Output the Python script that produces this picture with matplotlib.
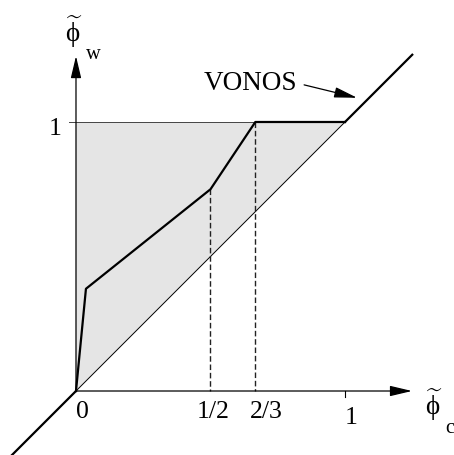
import numpy as np
import matplotlib.pyplot as plt
from matplotlib.patches import FancyArrowPatch, Polygon

# VONOS characteristic in normalised variables (phi_c, phi_w)
vonos_x = [0, 0.037, 0.5, 2 / 3, 1]
vonos_y = [0, 0.38, 0.75, 1, 1]
# diagonal phi_w = phi_c and its extension outside [0, 1]
diag_lo, diag_hi = -0.24, 1.25
# region of bounded schemes (shaded triangle)
tvd_x = [0, 0, 1]
tvd_y = [0, 1, 1]
# axis labels
xtick_pos = [0, 0.5, 2 / 3, 1]
xtick_lab = ['0', '1/2', '2/3', '1']
ytick_pos = [1]
ytick_lab = ['1']

plt.rcParams['mathtext.fontset'] = 'custom'
plt.rcParams['mathtext.rm'] = 'Liberation Serif'
plt.rcParams['mathtext.it'] = 'Liberation Serif:italic'

serif = ['Liberation Serif', 'DejaVu Serif']
fs = 18.5

fig = plt.figure(figsize=(4.54, 4.56), dpi=100)
ax = fig.add_axes([0, 0, 1, 1])
ax.set_xlim(-0.2825, 1.4052)
ax.set_ylim(-0.2379, 1.4572)
ax.axis('off')

# shaded triangle and its borders
ax.add_patch(Polygon(list(zip(tvd_x, tvd_y)), closed=True,
                     facecolor='#e5e5e5', edgecolor='none', zorder=1))
ax.plot([0, 1], [0, 1], color='k', lw=0.7, zorder=2)
ax.plot([-0.026, 1], [1, 1], color='#444444', lw=0.7, zorder=2)

# diagonal continues thick beyond the unit square
ax.plot([diag_lo, 0], [diag_lo, 0], color='k', lw=1.6, zorder=3)
ax.plot([1, diag_hi], [1, diag_hi], color='k', lw=1.6, zorder=3)

# VONOS curve
ax.plot(vonos_x, vonos_y, color='k', lw=1.6, zorder=4)

# dashed drop lines from the break points
for xb, yb in zip(vonos_x[2:4], vonos_y[2:4]):
    ax.plot([xb, xb], [yb, 0], color='#222222', lw=1.0,
            dashes=(4, 2), zorder=3)

# axes with arrow heads
arr = dict(arrowstyle='-|>,head_length=1.35,head_width=0.32',
           color='k', lw=0.9, mutation_scale=10, shrinkA=0, shrinkB=0, zorder=5)
ax.add_patch(FancyArrowPatch((0, 0), (1.249, 0), **arr))
ax.add_patch(FancyArrowPatch((0, 0), (0, 1.245), **arr))

# tick at phi_c = 1
ax.plot([1, 1], [0, -0.022], color='k', lw=0.8)

# tick labels
ylab_y = [-0.075, -0.075, -0.075, -0.097]
xlab_x = [0.024, 0.51, 0.706, 1.022]
for xp, yp, t in zip(xlab_x, ylab_y, xtick_lab):
    ax.text(xp, yp, t, fontsize=fs, family=serif, ha='center', va='center')
for yp, t in zip(ytick_pos, ytick_lab):
    ax.text(-0.078, yp - 0.022, t, fontsize=fs, family=serif,
            ha='center', va='center')

# axis titles: phi with tilde and subscript
phi = r'$\widetilde{\mathrm{\phi}}$'
ax.text(1.331, -0.05, phi, fontsize=fs + 1, ha='center', va='center')
ax.text(1.388, -0.134, 'c', fontsize=fs * 0.8, family=serif, ha='center', va='center')

ax.text(-0.006, 1.338, phi, fontsize=fs + 1, ha='center', va='center')
ax.text(0.063, 1.253, 'w', fontsize=fs * 0.8, family=serif, ha='center', va='center')

# VONOS label with pointer
ax.text(0.647, 1.145, 'VONOS', fontsize=fs + 1, family=serif, ha='center', va='center')
ax.add_patch(FancyArrowPatch((0.848, 1.138), (1.045, 1.09),
             arrowstyle='-|>,head_length=1.4,head_width=0.32',
             color='k', lw=0.9, mutation_scale=10, shrinkA=0, shrinkB=0))

fig.savefig('out.png', dpi=100)
